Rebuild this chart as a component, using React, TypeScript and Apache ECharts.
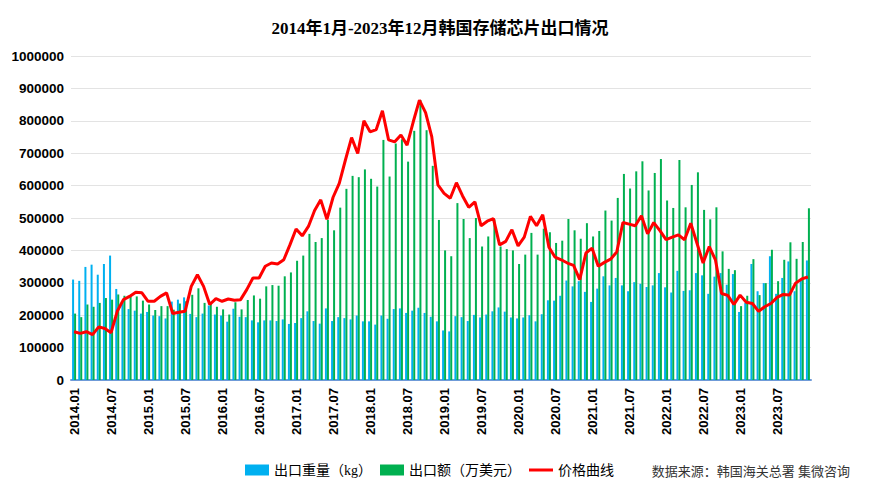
import React, { useEffect, useRef } from "react";
import * as echarts from "echarts";

const years = [2014, 2015, 2016, 2017, 2018, 2019, 2020, 2021, 2022, 2023];
const months = ["01", "02", "03", "04", "05", "06", "07", "08", "09", "10", "11", "12"];
const categories = years.flatMap((y) => months.map((m) => `${y}.${m}`));

const titleText = "2014年1月-2023年12月韩国存储芯片出口情况";
const seriesNames = ["出口重量（kg）", "出口额（万美元）", "价格曲线"];
const sourceText = "数据来源：韩国海关总署 集微咨询";

// 出口重量（kg）
const weight = [
  310000, 306000, 349000, 356000, 325000, 358000, 384000, 281000, 243000, 219000, 214000, 205000,
  210000, 199000, 197000, 190000, 242000, 248000, 255000, 204000, 194000, 205000, 230000, 202000,
  199000, 180000, 220000, 195000, 194000, 184000, 178000, 184000, 184000, 182000, 187000, 173000,
  176000, 191000, 212000, 182000, 174000, 221000, 182000, 194000, 191000, 187000, 199000, 181000,
  181000, 171000, 199000, 189000, 219000, 221000, 207000, 214000, 223000, 207000, 195000, 181000,
  153000, 150000, 197000, 194000, 182000, 201000, 193000, 202000, 212000, 224000, 211000, 193000,
  190000, 193000, 200000, 181000, 203000, 246000, 245000, 260000, 307000, 289000, 305000, 272000,
  241000, 282000, 320000, 292000, 315000, 292000, 274000, 302000, 297000, 287000, 292000, 330000,
  286000, 270000, 337000, 275000, 277000, 330000, 323000, 266000, 319000, 330000, 294000, 327000,
  210000, 238000, 358000, 274000, 299000, 382000, 266000, 315000, 366000, 274000, 307000, 369000,
];

// 出口额（万美元）
const amount = [
  205000, 194000, 233000, 226000, 238000, 253000, 248000, 264000, 260000, 258000, 258000, 245000,
  233000, 216000, 228000, 228000, 217000, 236000, 243000, 263000, 283000, 238000, 238000, 226000,
  218000, 202000, 240000, 218000, 247000, 261000, 251000, 289000, 293000, 291000, 320000, 332000,
  368000, 384000, 451000, 426000, 438000, 494000, 462000, 532000, 590000, 630000, 626000, 650000,
  621000, 597000, 741000, 628000, 730000, 743000, 674000, 769000, 864000, 771000, 661000, 494000,
  400000, 382000, 546000, 497000, 438000, 500000, 412000, 443000, 496000, 412000, 404000, 400000,
  358000, 387000, 454000, 387000, 467000, 456000, 423000, 430000, 497000, 462000, 436000, 484000,
  443000, 460000, 523000, 492000, 562000, 636000, 591000, 644000, 675000, 585000, 639000, 682000,
  554000, 531000, 679000, 533000, 602000, 641000, 525000, 496000, 533000, 397000, 343000, 339000,
  228000, 260000, 373000, 262000, 299000, 402000, 305000, 371000, 425000, 374000, 426000, 530000,
];

// 价格曲线
const price = [
  149000, 144000, 149000, 140000, 164000, 159000, 146000, 212000, 248000, 258000, 271000, 269000,
  243000, 243000, 258000, 269000, 205000, 209000, 212000, 289000, 325000, 289000, 233000, 251000,
  243000, 250000, 246000, 248000, 279000, 315000, 315000, 351000, 361000, 358000, 371000, 417000,
  466000, 445000, 474000, 523000, 556000, 496000, 564000, 607000, 679000, 748000, 699000, 800000,
  766000, 773000, 831000, 741000, 735000, 756000, 725000, 797000, 864000, 825000, 751000, 602000,
  576000, 561000, 609000, 568000, 533000, 550000, 476000, 490000, 498000, 417000, 428000, 464000,
  414000, 441000, 505000, 476000, 510000, 410000, 379000, 371000, 361000, 354000, 310000, 392000,
  407000, 351000, 363000, 373000, 395000, 486000, 481000, 476000, 507000, 451000, 486000, 461000,
  433000, 441000, 448000, 433000, 484000, 423000, 361000, 412000, 371000, 267000, 261000, 233000,
  262000, 240000, 236000, 212000, 226000, 236000, 255000, 264000, 262000, 299000, 312000, 318000,
];

const yTicks = { min: 0, max: 1000000, interval: 100000 };

export default function App() {
  const ref = useRef<HTMLDivElement>(null);
  useEffect(() => {
    if (!ref.current) return;
    const chart = echarts.init(ref.current, undefined, { renderer: "svg" });
    chart.setOption({
      animation: false,
      backgroundColor: "#ffffff",
      title: {
        text: titleText,
        left: "center",
        top: 15,
        textStyle: {
          fontFamily: "'Liberation Serif', 'Noto Sans CJK SC', serif",
          fontSize: 17,
          fontWeight: "bold",
          color: "#000",
        },
      },
      legend: {
        data: [
          { name: seriesNames[0], icon: "rect" },
          { name: seriesNames[1], icon: "rect" },
          { name: seriesNames[2], icon: "path://M0 0 L24 0 L24 3 L0 3 Z" },
        ],
        left: 240,
        top: 458,
        itemWidth: 24,
        itemHeight: 11,
        itemGap: 8,
        textStyle: {
          fontFamily: "'Liberation Serif', 'Noto Sans CJK SC', serif",
          fontSize: 14,
          color: "#000",
        },
      },
      graphic: [
        {
          type: "text",
          right: 30,
          top: 465,
          style: {
            text: sourceText,
            fontFamily: "'Liberation Serif', 'Noto Sans CJK SC', serif",
            fontSize: 13,
            fill: "#333",
          },
        },
      ],
      grid: { left: 71, right: 69, top: 56, bottom: 106, containLabel: false },
      xAxis: {
        type: "category",
        data: categories,
        axisTick: { show: false },
        axisLine: { lineStyle: { color: "#6F9BD8", width: 2 } },
        axisLabel: {
          interval: 5,
          rotate: 90,
          margin: 8,
          fontFamily: "'Liberation Sans', Arial, sans-serif",
          fontSize: 13,
          fontWeight: "bold",
          color: "#000",
        },
      },
      yAxis: {
        type: "value",
        min: yTicks.min,
        max: yTicks.max,
        interval: yTicks.interval,
        axisLine: { show: false },
        axisTick: { show: false },
        splitLine: { lineStyle: { color: "#e3e3e3", width: 1 } },
        axisLabel: {
          margin: 7,
          formatter: (v: number) => String(v),
          fontFamily: "'Liberation Sans', Arial, sans-serif",
          fontSize: 13.5,
          fontWeight: "bold",
          color: "#000",
        },
      },
      series: [
        {
          name: seriesNames[0],
          type: "bar",
          data: weight,
          barWidth: 2,
          barGap: "0%",
          itemStyle: { color: "#00B0F0" },
        },
        {
          name: seriesNames[1],
          type: "bar",
          data: amount,
          barWidth: 2,
          itemStyle: { color: "#00B050" },
        },
        {
          name: seriesNames[2],
          type: "line",
          data: price,
          symbol: "none",
          z: 5,
          lineStyle: { color: "#FF0000", width: 3 },
          itemStyle: { color: "#FF0000" },
        },
      ],
    });
    return () => chart.dispose();
  }, []);
  return (
    <div
      ref={ref}
      style={{ position: "fixed", left: 0, top: 0, width: 880, height: 486 }}
    />
  );
}
